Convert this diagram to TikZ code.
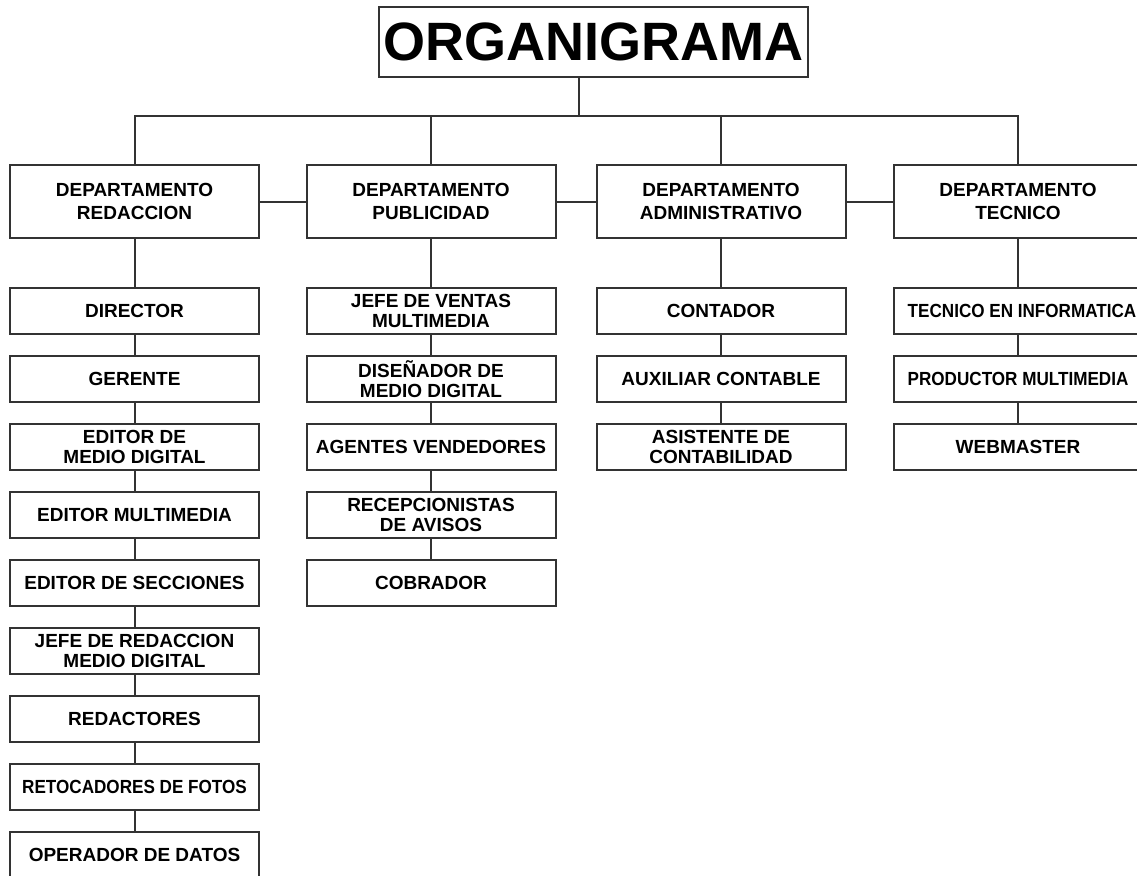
\documentclass[tikz,border=0pt]{standalone}
\usepackage{fontspec}
\setmainfont{Liberation Sans}
\usepackage{xcolor}
\usepackage{graphicx}
\usetikzlibrary{positioning}
\definecolor{linea}{HTML}{333333}

\tikzset{
  depto/.style={draw=linea, line width=2pt, minimum width=249pt, minimum height=73pt,
    inner sep=0pt, align=center, font=\bfseries\fontsize{19}{23}\selectfont},
  cargo/.style={depto, minimum height=46pt, font=\bfseries\fontsize{19}{19.5}\selectfont},
  enlace/.style={draw=linea, line width=2pt}
}
% texto algo estrecho para los cargos largos
\newcommand{\angosto}[1]{\scalebox{0.9}[1]{#1}}

\begin{document}
\begin{tikzpicture}[x=1pt, y=-1pt]
\useasboundingbox (0,0) rectangle (1137,875);

\node[draw=linea, line width=2pt, minimum width=429pt, minimum height=69pt, inner sep=0pt,
      font=\bfseries\fontsize{54}{60}\selectfont] (titulo) at (593.5,42) {ORGANIGRAMA};
\coordinate (reparto) at (579,116);

% departamentos
\node[depto] (dRed) at (134.5,201.5) {DEPARTAMENTO\\REDACCION};
\node[depto] (dPub) at (431,201.5) {DEPARTAMENTO\\PUBLICIDAD};
\node[depto] (dAdm) at (721,201.5) {DEPARTAMENTO\\ADMINISTRATIVO};
\node[depto] (dTec) at (1018,201.5) {DEPARTAMENTO\\TECNICO};

% redaccion
\node[cargo] (r1) at (134.5,311) {DIRECTOR};
\node[cargo] (r2) at (134.5,379) {GERENTE};
\node[cargo] (r3) at (134.5,447) {EDITOR DE\\MEDIO DIGITAL};
\node[cargo] (r4) at (134.5,515) {EDITOR MULTIMEDIA};
\node[cargo] (r5) at (134.5,583) {EDITOR DE SECCIONES};
\node[cargo] (r6) at (134.5,651) {JEFE DE REDACCION\\MEDIO DIGITAL};
\node[cargo] (r7) at (134.5,719) {REDACTORES};
\node[cargo] (r8) at (134.5,787) {\angosto{RETOCADORES DE FOTOS}};
\node[cargo] (r9) at (134.5,855) {OPERADOR DE DATOS};

% publicidad
\node[cargo] (p1) at (431,311) {JEFE DE VENTAS\\MULTIMEDIA};
\node[cargo] (p2) at (431,379) {DISEÑADOR DE\\MEDIO DIGITAL};
\node[cargo] (p3) at (431,447) {AGENTES VENDEDORES};
\node[cargo] (p4) at (431,515) {RECEPCIONISTAS\\DE AVISOS};
\node[cargo] (p5) at (431,583) {COBRADOR};

% administrativo
\node[cargo] (a1) at (721,311) {CONTADOR};
\node[cargo] (a2) at (721,379) {AUXILIAR CONTABLE};
\node[cargo] (a3) at (721,447) {ASISTENTE DE\\CONTABILIDAD};

% tecnico
\node[cargo] (t1) at (1018,311) {\hspace*{8pt}\angosto{TECNICO EN INFORMATICA}};
\node[cargo] (t2) at (1018,379) {\angosto{PRODUCTOR MULTIMEDIA}};
\node[cargo] (t3) at (1018,447) {WEBMASTER};

% lineas
\draw[enlace] (titulo.south -| reparto) -- (reparto);
\draw[enlace] (dRed.north) |- (reparto) -| (dTec.north);
\draw[enlace] (dPub.north) -- (dPub.north |- reparto);
\draw[enlace] (dAdm.north) -- (dAdm.north |- reparto);
\draw[enlace] (dRed) -- (dPub) (dPub) -- (dAdm) (dAdm) -- (dTec);

\draw[enlace] (dRed) -- (r1) -- (r2) -- (r3) -- (r4) -- (r5) -- (r6) -- (r7) -- (r8) -- (r9);
\draw[enlace] (dPub) -- (p1) -- (p2) -- (p3) -- (p4) -- (p5);
\draw[enlace] (dAdm) -- (a1) -- (a2) -- (a3);
\draw[enlace] (dTec) -- (t1) -- (t2) -- (t3);
\end{tikzpicture}
\end{document}
